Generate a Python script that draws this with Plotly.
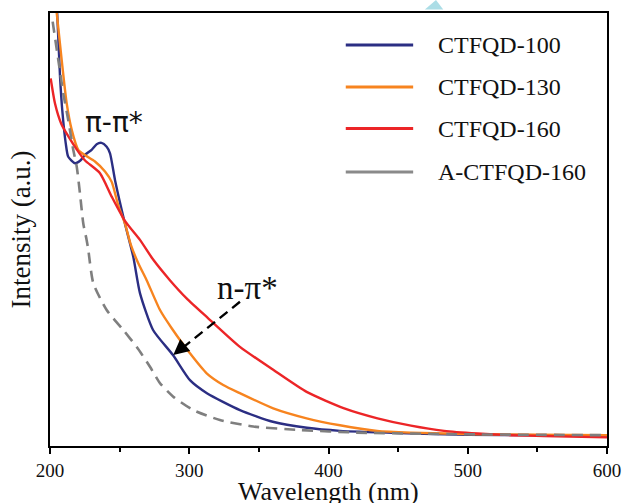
import plotly.graph_objects as go

# UV-vis absorption spectra of the CTFQD samples
wl_100 = [205.0, 207.2, 208.8, 211.3, 213.1, 218.0, 222.0, 225.0, 229.9, 233.5, 237.0, 240.7,
          243.1, 246.7, 253.8, 259.8, 264.6, 274.0, 288.3, 300.5, 312.7, 336.4, 360.0, 384.5,
          408.2, 450.0, 500.0, 550.0, 600.0]
int_100 = [1.010, 0.853, 0.776, 0.699, 0.668, 0.653, 0.660, 0.672, 0.684, 0.697, 0.700, 0.691,
           0.676, 0.614, 0.514, 0.437, 0.353, 0.268, 0.210, 0.152, 0.122, 0.083, 0.056, 0.042,
           0.035, 0.030, 0.026, 0.025, 0.024]

wl_130 = [204.5, 208.4, 212.0, 215.6, 220.3, 225.0, 232.3, 239.5, 244.3, 249.0, 253.8, 258.0,
          263.4, 269.4, 279.0, 287.4, 300.5, 312.5, 324.4, 336.4, 360.3, 384.3, 408.2, 435.0,
          459.0, 507.0, 550.0, 600.0]
int_130 = [1.010, 0.891, 0.791, 0.730, 0.684, 0.672, 0.657, 0.634, 0.610, 0.556, 0.514, 0.465,
           0.422, 0.383, 0.314, 0.272, 0.214, 0.168, 0.141, 0.122, 0.087, 0.064, 0.048, 0.035,
           0.031, 0.027, 0.026, 0.025]

wl_160 = [200.5, 203.6, 208.0, 213.0, 219.4, 225.0, 235.9, 244.3, 253.8, 264.6, 274.2, 286.1,
          298.1, 313.6, 336.4, 360.3, 384.3, 411.3, 435.2, 459.2, 483.0, 507.0, 531.0, 554.8,
          600.0]
int_160 = [0.849, 0.791, 0.745, 0.716, 0.684, 0.660, 0.630, 0.576, 0.520, 0.476, 0.430, 0.383,
           0.341, 0.295, 0.229, 0.176, 0.125, 0.087, 0.064, 0.047, 0.035, 0.029, 0.025, 0.023,
           0.020]

wl_a160 = [201.9, 206.0, 209.5, 213.1, 216.7, 219.2, 221.5, 223.9, 226.3, 227.5, 231.1, 240.7,
           252.6, 262.2, 271.8, 279.0, 288.5, 302.9, 322.0, 346.0, 379.5, 420.0, 500.0, 600.0]
int_a160 = [0.980, 0.891, 0.815, 0.753, 0.684, 0.645, 0.584, 0.514, 0.476, 0.453, 0.376, 0.314,
            0.268, 0.229, 0.183, 0.145, 0.114, 0.083, 0.060, 0.045, 0.037, 0.031, 0.027, 0.025]

names = ["CTFQD-100", "CTFQD-130", "CTFQD-160", "A-CTFQD-160"]
colors = ["#2b2e83", "#f7841f", "#ec2527", "#7f7f7f"]
dashes = ["solid", "solid", "solid", "11px,7px"]

x_ticks = [200, 300, 400, 500, 600]

serif = "Liberation Serif"

fig = go.Figure()
series = [(wl_100, int_100), (wl_130, int_130), (wl_160, int_160), (wl_a160, int_a160)]
for (xs, ys), name, col, dsh in zip(series, names, colors, dashes):
    fig.add_trace(go.Scatter(
        x=xs, y=ys, mode="lines", name=name,
        line=dict(color=col, width=2.4 if dsh == "solid" else 2.6, dash=dsh,
                  shape="spline", smoothing=0.6),
        showlegend=False,
    ))

# hand-drawn legend: line samples and labels
legend_y = [0.926, 0.829, 0.733, 0.633]
shapes = []
annotations = []
for name, col, dsh, ly in zip(names, colors, dashes, legend_y):
    shapes.append(dict(type="line", xref="paper", yref="paper",
                       x0=0.531, x1=0.652, y0=ly, y1=ly,
                       line=dict(color="#8a8a8a" if dsh != "solid" else col, width=3)))
    annotations.append(dict(xref="paper", yref="paper", x=0.693, y=ly,
                            xanchor="left", yanchor="middle", showarrow=False,
                            text=name, font=dict(family=serif, size=24, color="#111")))

# transition labels
annotations.append(dict(x=246.0, y=0.746, xref="x", yref="y", showarrow=False,
                        text="π-π*", font=dict(family="DejaVu Sans", size=28, color="#111")))
annotations.append(dict(x=341.5, y=0.365, xref="x", yref="y", showarrow=False,
                        text="n-π*", font=dict(family=serif, size=33, color="#111")))

# dashed pointer to the n-pi* shoulder
shapes.append(dict(type="line", xref="x", yref="y", x0=336.4, y0=0.333, x1=295.0, y1=0.226,
                   line=dict(color="black", width=2.4, dash="10px,6px")))
annotations.append(dict(x=288.5, y=0.210, xref="x", yref="y", text="", showarrow=True,
                        ax=12, ay=-10, arrowhead=2, arrowsize=1.3, arrowwidth=2.4,
                        arrowcolor="black", standoff=0))

# x-axis title, set just below the tick labels
annotations.append(dict(xref="paper", yref="paper", x=0.5, y=-0.106,
                        xanchor="center", yanchor="middle", showarrow=False,
                        text="Wavelength (nm)", font=dict(family=serif, size=26, color="#111")))

# small marker above the frame
shapes.append(dict(type="path", xref="paper", yref="paper",
                   path="M 0.6930 1.0300 L 0.6730 1.0080 L 0.7060 1.0080 Z",
                   fillcolor="#abdde6", line=dict(width=0)))

fig.update_layout(
    width=622, height=503,
    margin=dict(l=50, r=15, t=13, b=57, autoexpand=False),
    plot_bgcolor="white", paper_bgcolor="white",
    shapes=shapes, annotations=annotations,
    xaxis=dict(
        range=[200, 600], tickvals=x_ticks, ticktext=[str(v) for v in x_ticks],
        ticks="outside", ticklen=6, tickwidth=1.5, tickcolor="black",
        minor=dict(dtick=50, ticks="outside", ticklen=4, tickwidth=1.5, tickcolor="black"),
        showline=True, linecolor="black", linewidth=1.8, mirror=True,
        showgrid=False, zeroline=False, automargin=False,
        tickfont=dict(family=serif, size=19, color="#111"),
    ),
    yaxis=dict(
        range=[0, 1], showticklabels=False, ticks="",
        showline=True, linecolor="black", linewidth=1.8, mirror=True,
        showgrid=False, zeroline=False, automargin=False,
        title=dict(text="Intensity (a.u.)", font=dict(family=serif, size=27, color="#111"),
                   standoff=10),
    ),
)

fig.write_html("out.html")
